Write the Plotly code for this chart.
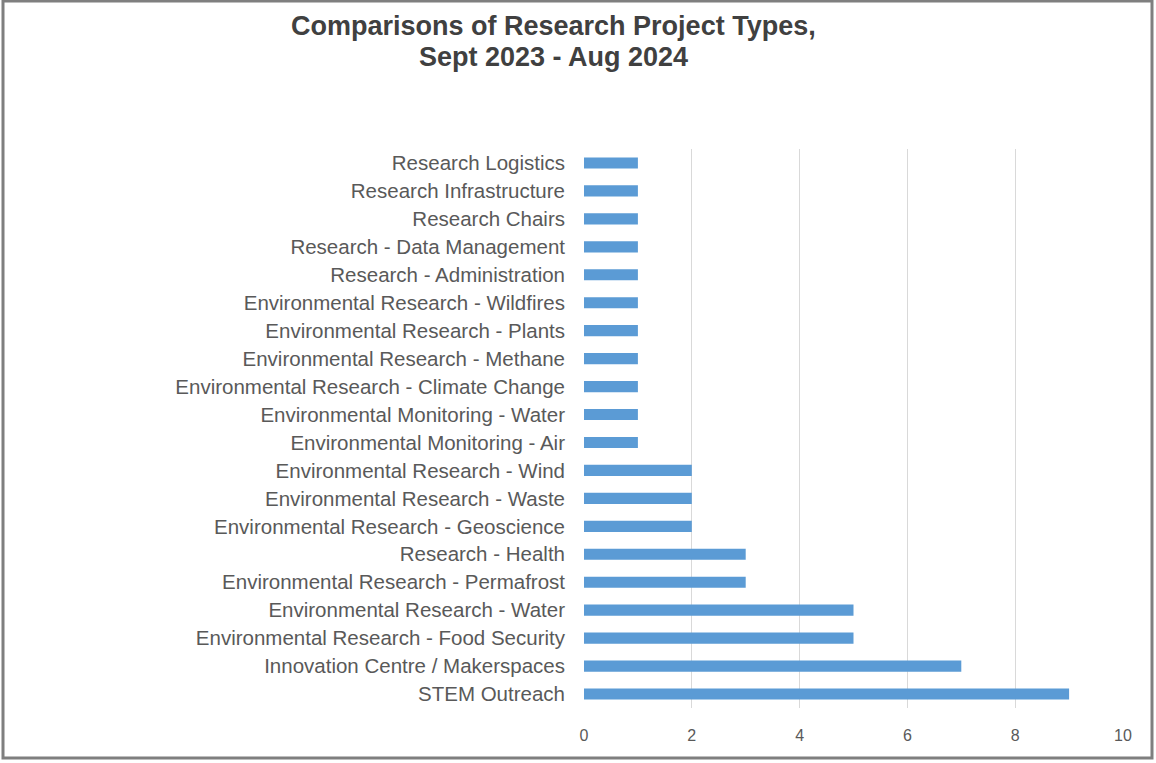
import plotly.graph_objects as go

# Project categories, listed top to bottom as displayed
categories = [
    "Research Logistics",
    "Research Infrastructure",
    "Research Chairs",
    "Research - Data Management",
    "Research - Administration",
    "Environmental Research - Wildfires",
    "Environmental Research - Plants",
    "Environmental Research - Methane",
    "Environmental Research - Climate Change",
    "Environmental Monitoring - Water",
    "Environmental Monitoring - Air",
    "Environmental Research - Wind",
    "Environmental Research - Waste",
    "Environmental Research - Geoscience",
    "Research - Health",
    "Environmental Research - Permafrost",
    "Environmental Research - Water",
    "Environmental Research - Food Security",
    "Innovation Centre / Makerspaces",
    "STEM Outreach",
]
project_counts = [1, 1, 1, 1, 1, 1, 1, 1, 1, 1, 1, 2, 2, 2, 3, 3, 5, 5, 7, 9]
x_ticks = [0, 2, 4, 6, 8, 10]
title_lines = ["Comparisons of Research Project Types,", "Sept 2023 - Aug 2024"]

W, H = 1156, 763
M_L, M_R, M_T, M_B = 584, 33, 149, 55
plot_w = W - M_L - M_R
plot_h = H - M_T - M_B
FONT = "Liberation Sans, Arial, sans-serif"


def px_to_paper_x(px):
    return (px - M_L) / plot_w


def px_to_paper_y(py):
    return (H - M_B - py) / plot_h


fig = go.Figure(
    go.Bar(
        x=project_counts,
        y=categories,
        orientation="h",
        width=0.4,
        marker=dict(color="#5b9bd5", line=dict(width=0)),
    )
)

# Two-line bold heading, centred over the whole chart
title_annotations = [
    dict(
        text=f"<b>{line}</b>",
        xref="paper",
        yref="paper",
        x=px_to_paper_x(553),
        y=px_to_paper_y(cy),
        xanchor="center",
        yanchor="middle",
        showarrow=False,
        font=dict(size=27, color="#404040", family=FONT),
    )
    for line, cy in zip(title_lines, [26, 57])
]

fig.update_layout(
    width=W,
    height=H,
    margin=dict(l=M_L, r=M_R, t=M_T, b=M_B),
    paper_bgcolor="white",
    plot_bgcolor="white",
    showlegend=False,
    font=dict(family=FONT, color="#595959"),
    annotations=title_annotations,
    xaxis=dict(
        range=[0, 10],
        tickvals=x_ticks,
        showgrid=True,
        gridcolor="#d9d9d9",
        gridwidth=1,
        zeroline=False,
        showline=False,
        ticks="",
        tickfont=dict(size=16, color="#595959"),
        ticklabelstandoff=16,
    ),
    yaxis=dict(
        autorange="reversed",
        showgrid=False,
        zeroline=False,
        showline=False,
        ticks="",
        tickfont=dict(size=20.5, color="#595959"),
        ticklabelstandoff=18,
    ),
    shapes=[
        dict(
            type="rect",
            xref="paper",
            yref="paper",
            x0=px_to_paper_x(3),
            x1=px_to_paper_x(1152),
            y0=px_to_paper_y(1),
            y1=px_to_paper_y(758),
            line=dict(color="#7f7f7f", width=3),
            fillcolor="rgba(0,0,0,0)",
            layer="below",
        )
    ],
)

fig.write_html("out.html")
